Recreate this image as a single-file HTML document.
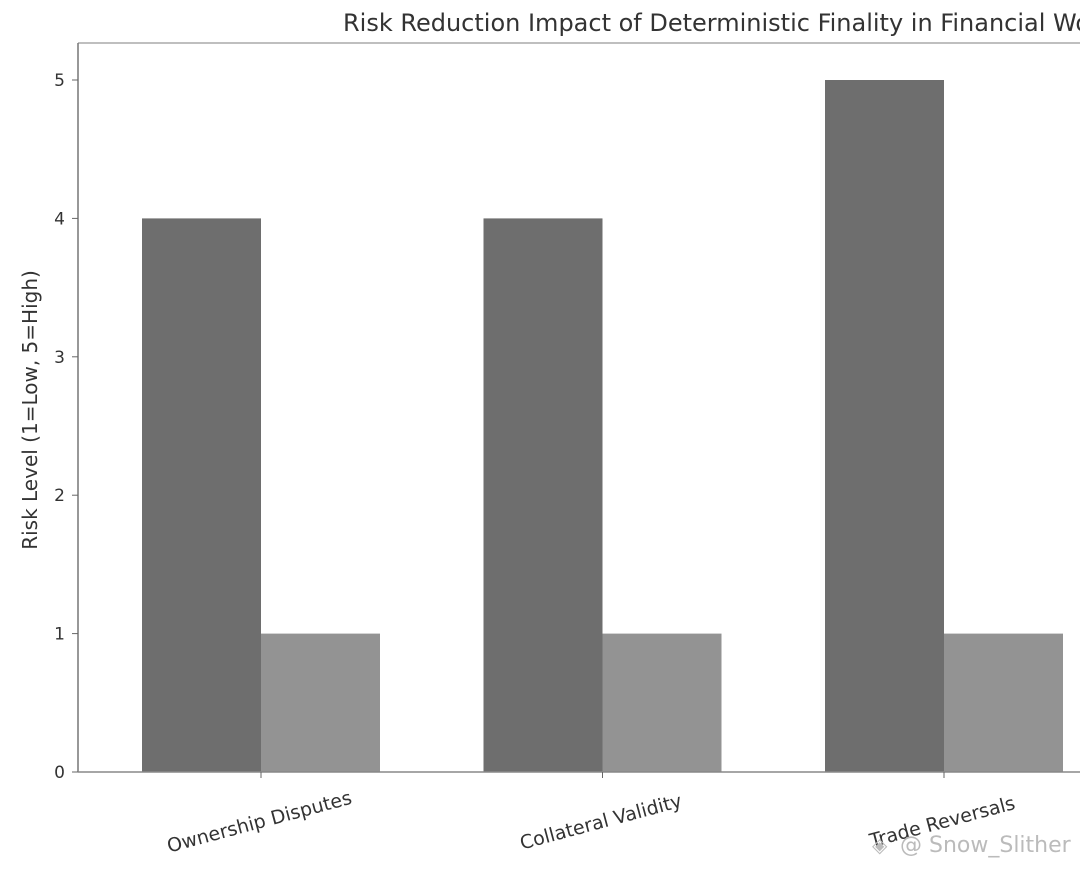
<!DOCTYPE html>
<html><head><meta charset="utf-8"><style>
body{margin:0;background:#fff;width:1080px;height:868px;overflow:hidden;font-family:"Liberation Sans","DejaVu Sans",sans-serif}
svg text{font-family:"DejaVu Sans","Liberation Sans",sans-serif}
</style></head><body>
<svg id="chart" width="1080" height="868" viewBox="0 0 1080 868" xmlns="http://www.w3.org/2000/svg">
<text x="343" y="31" font-size="24" fill="#333">Risk Reduction Impact of Deterministic Finality in Financial Workflows</text>
<g id="bars"></g>
<line x1="78" y1="43" x2="1080" y2="43" stroke="#aaa" stroke-width="1.5"/>
<line x1="78" y1="43" x2="78" y2="772" stroke="#777" stroke-width="1.5"/>
<line x1="78" y1="772" x2="1080" y2="772" stroke="#888" stroke-width="1.5"/>
<g id="yticks"></g>
<g id="xticks"></g>
<text transform="translate(37,410) rotate(-90)" text-anchor="middle" font-size="20" fill="#333">Risk Level (1=Low, 5=High)</text>
<text x="900" y="852" font-size="22" fill="#bbb">@ Snow_Slither</text>
<text x="872" y="852" font-size="20" fill="#bbb">◈</text>
</svg>
<script>
const categories=["Ownership Disputes","Collateral Validity","Trade Reversals"];
const beforeValues=[4,4,5];
const afterValues=[1,1,1];
const yTicks=[0,1,2,3,4,5];
const NS="http://www.w3.org/2000/svg";
const y0=772,unit=138.4,x0=261,step=341.5,bw=119;
const yS=v=>y0-v*unit;
const xS=i=>x0+i*step;
const bars=document.getElementById('bars');
function mk(tag,attrs,parent){const e=document.createElementNS(NS,tag);for(const k in attrs)e.setAttribute(k,attrs[k]);parent.appendChild(e);return e;}
categories.forEach((c,i)=>{
  const b=mk('rect',{x:xS(i)-bw,y:yS(beforeValues[i]),width:bw,height:y0-yS(beforeValues[i]),fill:'#6e6e6e'},bars);
  
  
  const a=mk('rect',{x:xS(i),y:yS(afterValues[i]),width:bw,height:y0-yS(afterValues[i]),fill:'#939393'},bars);
  
  
  const xt=document.getElementById('xticks');
  mk('line',{x1:xS(i),y1:y0,x2:xS(i),y2:y0+6,stroke:'#666'},xt);
  const t=mk('text',{transform:`translate(${xS(i)},${y0+56}) rotate(-15)`,'text-anchor':'middle','font-size':19,fill:'#333'},xt);
  t.textContent=c;
  
  
});
const yt=document.getElementById('yticks');
yTicks.forEach(v=>{
  mk('line',{x1:72,y1:yS(v),x2:78,y2:yS(v),stroke:'#666'},yt);
  const t=mk('text',{x:65,y:yS(v)+6,'text-anchor':'end','font-size':17,fill:'#333'},yt);
  t.textContent=v;
  
  
});
</script>
</body></html>
